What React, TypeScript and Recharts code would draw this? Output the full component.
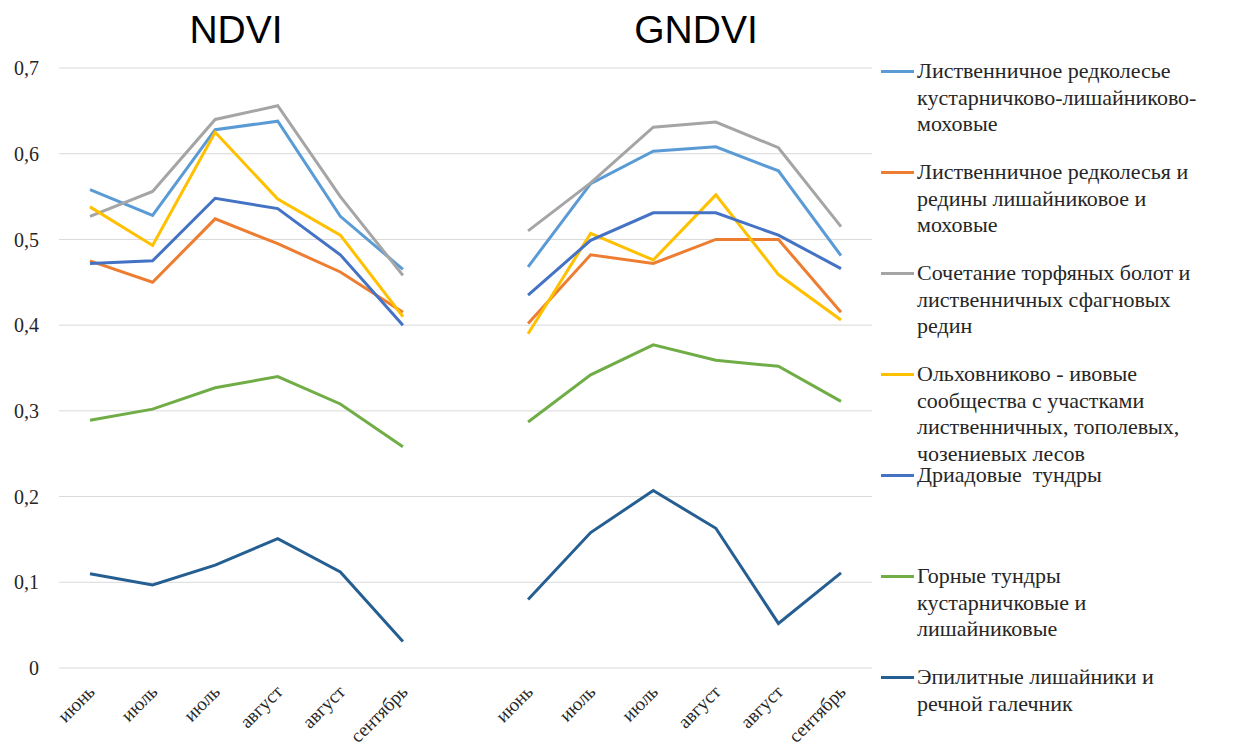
import { LineChart, Line, XAxis, YAxis, CartesianGrid, Legend } from "recharts";

// months repeat for both indices, with one empty slot between the two blocks
const months = ["июнь", "июль", "июль", "август", "август", "сентябрь"];
const categories = [...months, "", ...months];

const yTicks = [0, 0.1, 0.2, 0.3, 0.4, 0.5, 0.6, 0.7];

// NDVI values per community
const ndviLarchShrub   = [0.558, 0.528, 0.628, 0.638, 0.527, 0.465];
const ndviLarchLichen  = [0.475, 0.450, 0.524, 0.495, 0.462, 0.415];
const ndviPeatBog      = [0.527, 0.556, 0.640, 0.656, 0.550, 0.458];
const ndviAlderWillow  = [0.538, 0.493, 0.625, 0.547, 0.505, 0.410];
const ndviDryas        = [0.472, 0.475, 0.548, 0.536, 0.482, 0.400];
const ndviMountain     = [0.289, 0.302, 0.327, 0.340, 0.308, 0.258];
const ndviEpilithic    = [0.110, 0.097, 0.120, 0.151, 0.112, 0.031];

// GNDVI values per community
const gndviLarchShrub  = [0.468, 0.565, 0.603, 0.608, 0.580, 0.481];
const gndviLarchLichen = [0.402, 0.482, 0.472, 0.500, 0.500, 0.415];
const gndviPeatBog     = [0.510, 0.566, 0.631, 0.637, 0.607, 0.515];
const gndviAlderWillow = [0.390, 0.507, 0.476, 0.552, 0.459, 0.406];
const gndviDryas       = [0.435, 0.499, 0.531, 0.531, 0.505, 0.466];
const gndviMountain    = [0.287, 0.342, 0.377, 0.359, 0.352, 0.311];
const gndviEpilithic   = [0.080, 0.158, 0.207, 0.163, 0.052, 0.111];

// legend names, broken the way the original legend wraps them
const series = [
  { key: "s1", name: "Лиственничное редколесье\nкустарничково-лишайниково-\nмоховые", color: "#5B9BD5", ndvi: ndviLarchShrub, gndvi: gndviLarchShrub },
  { key: "s2", name: "Лиственничное редколесья и\nредины лишайниковое и\nмоховые", color: "#ED7D31", ndvi: ndviLarchLichen, gndvi: gndviLarchLichen },
  { key: "s3", name: "Сочетание торфяных болот и\nлиственничных сфагновых\nредин", color: "#A5A5A5", ndvi: ndviPeatBog, gndvi: gndviPeatBog },
  { key: "s4", name: "Ольховниково - ивовые\nсообщества с участками\nлиственничных, тополевых,\nчозениевых лесов", color: "#FFC000", ndvi: ndviAlderWillow, gndvi: gndviAlderWillow },
  { key: "s5", name: "Дриадовые  тундры", color: "#4472C4", ndvi: ndviDryas, gndvi: gndviDryas },
  { key: "s6", name: "Горные тундры\nкустарничковые и\nлишайниковые", color: "#70AD47", ndvi: ndviMountain, gndvi: gndviMountain },
  { key: "s7", name: "Эпилитные лишайники и\nречной галечник", color: "#255E91", ndvi: ndviEpilithic, gndvi: gndviEpilithic },
];

const data = categories.map((month, i) => {
  const row: Record<string, any> = { month };
  series.forEach(s => {
    const vals = [...s.ndvi, null, ...s.gndvi];
    row[s.key] = vals[i];
  });
  return row;
});

const SERIF = "'Liberation Serif', 'Times New Roman', serif";
const SANS = "'Liberation Sans', Arial, sans-serif";

function MonthTick({ x, y, payload }: any) {
  const ax = x + 6;
  const ay = y + 25;
  return (
    <text x={ax} y={ay} transform={`rotate(-45 ${ax} ${ay})`} textAnchor="end"
          fontFamily={SERIF} fontSize={19} fill="#262626">
      {payload.value}
    </text>
  );
}

// legend keeps the series order; rows sit at a fixed pitch like the original
function renderLegend() {
  return (
    <div style={{ position: "relative", width: 385, height: 690 }}>
      {series.map((s, i) => (
        <div key={s.key} style={{ position: "absolute", left: 0, top: i * 101, width: 385 }}>
          <div style={{ position: "absolute", left: 9, top: 12, width: 33, height: 3, background: s.color }} />
          <div style={{ position: "absolute", left: 45, top: 0, width: 335, fontFamily: SERIF,
                        fontSize: 22, lineHeight: "26.5px", color: "#262626", whiteSpace: "pre" }}>
            {s.name}
          </div>
        </div>
      ))}
    </div>
  );
}

export default function App() {
  return (
    <div style={{ margin: "-8px 0 0 -8px", width: 1257, height: 747, background: "#fff" }}>
      <LineChart width={1257} height={747} data={data}
                 margin={{ top: 68, right: 385, left: 0, bottom: 0 }}>
        <CartesianGrid vertical={false} stroke="#D9D9D9" />
        <XAxis dataKey="month" interval={0} height={79} axisLine={false} tickLine={false}
               tickSize={0} tickMargin={0} padding={{ left: 31, right: 31 }} tick={<MonthTick />} />
        <YAxis domain={[0, 0.7]} ticks={yTicks} width={59} axisLine={false} tickLine={false}
               tickSize={0} tickMargin={20}
               tick={{ fontFamily: SERIF, fontSize: 20, fill: "#262626" }}
               tickFormatter={(v: number) => (v === 0 ? "0" : v.toFixed(1).replace(".", ","))} />
        <Legend layout="vertical" align="center" verticalAlign="middle" content={renderLegend}
                wrapperStyle={{ left: 872, top: 58, width: 385, height: 690 }} />
        {series.map(s => (
          <Line key={s.key} type="linear" dataKey={s.key} name={s.name} stroke={s.color}
                strokeWidth={3} dot={false} activeDot={false} connectNulls={false}
                isAnimationActive={false} />
        ))}
        <text x={236} y={43} textAnchor="middle" fontFamily={SANS} fontSize={39} fill="#000">NDVI</text>
        <text x={696} y={43} textAnchor="middle" fontFamily={SANS} fontSize={39} fill="#000">GNDVI</text>
      </LineChart>
    </div>
  );
}
